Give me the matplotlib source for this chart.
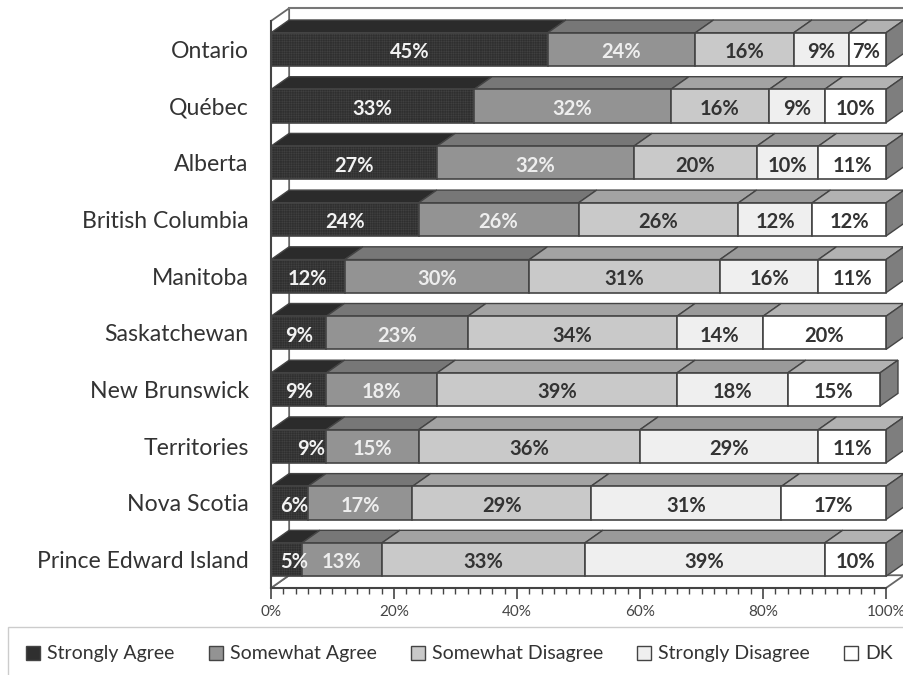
import matplotlib
matplotlib.use("Agg")
import matplotlib.pyplot as plt
from matplotlib.patches import Patch, Polygon
import numpy as np

plt.rcParams["font.family"] = ["Lato", "DejaVu Sans"]
plt.rcParams["hatch.linewidth"] = 0.3

provinces = ["Ontario", "Québec", "Alberta", "British Columbia", "Manitoba", "Saskatchewan",
             "New Brunswick", "Territories", "Nova Scotia", "Prince Edward Island"]
series = ["Strongly Agree", "Somewhat Agree", "Somewhat Disagree", "Strongly Disagree", "DK"]

strongly_agree = [45, 33, 27, 24, 12, 9, 9, 9, 6, 5]
somewhat_agree = [24, 32, 32, 26, 30, 23, 18, 15, 17, 13]
somewhat_disagree = [16, 16, 20, 26, 31, 34, 39, 36, 29, 33]
strongly_disagree = [9, 9, 10, 12, 16, 14, 18, 29, 31, 39]
dont_know = [7, 10, 11, 12, 11, 20, 15, 11, 17, 10]

front_colors = ["#2f2f2f", "#939393", "#c9c9c9", "#efefef", "#ffffff"]
top_colors = ["#2b2b2b", "#777777", "#a3a3a3", "#9a9a9a", "#b2b2b2"]
text_colors = ["#f2f2f2", "#eeeeee", "#333333", "#333333", "#333333"]
hatches = ["+++++++", None, None, None, None]

# labels that sit off centre in the original
nudges = {(7, 0): 2.0, (8, 0): 0.7, (9, 0): 1.2, (0, 4): -0.3}

W, H = 904, 675
DX, DY = 2.95, 0.225  # 3d depth in data units
BAR_H = 0.585

fig = plt.figure(figsize=(W / 100, H / 100), dpi=100)
ax = fig.add_axes([271 / W, 1 - 588 / H, 615 / W, 567 / H])
ax.set_xlim(0, 100)
ax.set_ylim(9.5, -0.5)

# walls and floor
wall_kw = dict(facecolor="white", edgecolor="#666666", linewidth=1.3, clip_on=False, zorder=1)
ax.add_patch(Polygon([(0, 9.5), (100, 9.5), (100 + DX, 9.5 - DY), (DX, 9.5 - DY)], **wall_kw))
ax.add_patch(Polygon([(0, -0.5), (DX, -0.5 - DY), (DX, 9.5 - DY), (0, 9.5)], **wall_kw))
ax.plot([DX, 100 + DX], [-0.5 - DY, -0.5 - DY], color="#777777", lw=1.5, clip_on=False, zorder=1)

y = np.arange(len(provinces))
data = np.array([strongly_agree, somewhat_agree, somewhat_disagree, strongly_disagree, dont_know])
left = np.zeros(len(provinces))
for s, values in enumerate(data):
    right = np.minimum(left + values, 100)  # Ontario adds up to 101
    ax.barh(y, right - left, left=left, height=BAR_H, color=front_colors[s], edgecolor="#444444",
            linewidth=1.2, hatch=hatches[s], zorder=3, clip_on=False)
    for i in y:
        top = y[i] - BAR_H / 2
        ax.add_patch(Polygon([(left[i], top), (right[i], top), (right[i] + DX, top - DY), (left[i] + DX, top - DY)],
                             facecolor=top_colors[s], edgecolor="#444444", linewidth=1.0, clip_on=False, zorder=2))
        ax.text((left[i] + right[i]) / 2 + nudges.get((i, s), 0), y[i] + 0.05, f"{values[i]}%", ha="center", va="center",
                color=text_colors[s], fontsize=14.5, fontweight="bold", zorder=5)
    if s == len(data) - 1:
        for i in y:
            top, bot = y[i] - BAR_H / 2, y[i] + BAR_H / 2
            ax.add_patch(Polygon([(right[i], top), (right[i] + DX, top - DY), (right[i] + DX, bot - DY), (right[i], bot)],
                                 facecolor="#7e7e7e", edgecolor="#444444", linewidth=1.0, clip_on=False, zorder=2))
    left = right

for side in ["top", "right"]:
    ax.spines[side].set_visible(False)
for side in ["left", "bottom"]:
    ax.spines[side].set_color("#444444")
    ax.spines[side].set_linewidth(1.5)
    ax.spines[side].set_zorder(6)

ax.set_yticks(y)
ax.set_yticklabels(provinces, fontsize=16.6, color="#333333")
ax.tick_params(axis="y", length=0, pad=16)
ax.set_xticks(np.arange(0, 101, 20))
ax.set_xticklabels([f"{v}%" for v in range(0, 101, 20)], fontsize=11, color="#444444")
ax.set_xticks(np.arange(0, 101, 2), minor=True)
ax.tick_params(axis="x", which="major", length=8, width=1.2, color="#444444", pad=4)
ax.tick_params(axis="x", which="minor", length=4, width=1.0, color="#444444")

handles = [Patch(facecolor=c, edgecolor="#444444", linewidth=1.0) for c in front_colors]
fig.legend(handles, series, ncol=5, loc="upper left", bbox_to_anchor=(8 / W, 1 - 627 / H), borderaxespad=0,
           fancybox=False, framealpha=1, edgecolor="#cccccc", fontsize=14, labelcolor="#333333",
           handlelength=0.72, handleheight=0.72, handletextpad=0.36, columnspacing=1.75, borderpad=0.95)

fig.savefig("out.png", dpi=100)
